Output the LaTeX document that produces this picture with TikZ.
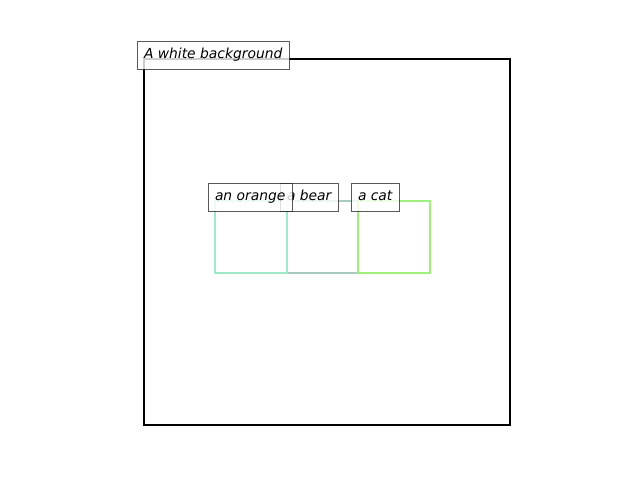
\documentclass[tikz,border=0pt]{standalone}
\usepackage{fontspec}
\newfontfamily\labelfont{DejaVu Sans}
\usepackage{tikz}

\definecolor{orangebox}{HTML}{A0E8C8}
\definecolor{bearbox}{HTML}{A8C8C0}
\definecolor{catbox}{HTML}{A0F080}
\definecolor{labelrand}{HTML}{303030}

\tikzset{
	kasten/.style={line width=1.5pt},
	etikett/.style={anchor=base west, xshift=-5.35pt, fill=white, fill opacity=0.8, text opacity=1,
		draw=labelrand, draw opacity=0.8, line width=0.7pt, inner xsep=5pt, inner ysep=5pt,
		text height=0.75em, text depth=0.25em, font=\labelfont\itshape\fontsize{10}{12}\selectfont}
}

\begin{document}
\begin{tikzpicture}[x=0.01in, y=-0.01in]
		\useasboundingbox (0,0) rectangle (640,480);
		
		% Hintergrund
		\coordinate (H1) at (144,59);
		\coordinate (H2) at (510,425);
		\draw[line width=1.5pt] (H1) rectangle (H2);
		
		% Kaesten
		\coordinate (B1) at (287,201);
		\coordinate (B2) at (358,273);
		\draw[kasten, bearbox] (B1) rectangle (B2);
		
		\coordinate (O1) at (215,201);
		\coordinate (O2) at (287,273);
		\draw[kasten, orangebox] (O1) rectangle (O2);
		
		\coordinate (C1) at (358,201);
		\coordinate (C2) at (430,273);
		\draw[kasten, catbox] (C1) rectangle (C2);
		
		% Beschriftungen
		\node[etikett] (hintergrund) at (H1) {A white background};
		\node[etikett] (cat) at (C1) {a cat};
		\node[etikett] (bear) at (B1) {a bear};
		\node[etikett] (orange) at (O1) {an orange};
	\end{tikzpicture}
\end{document}
